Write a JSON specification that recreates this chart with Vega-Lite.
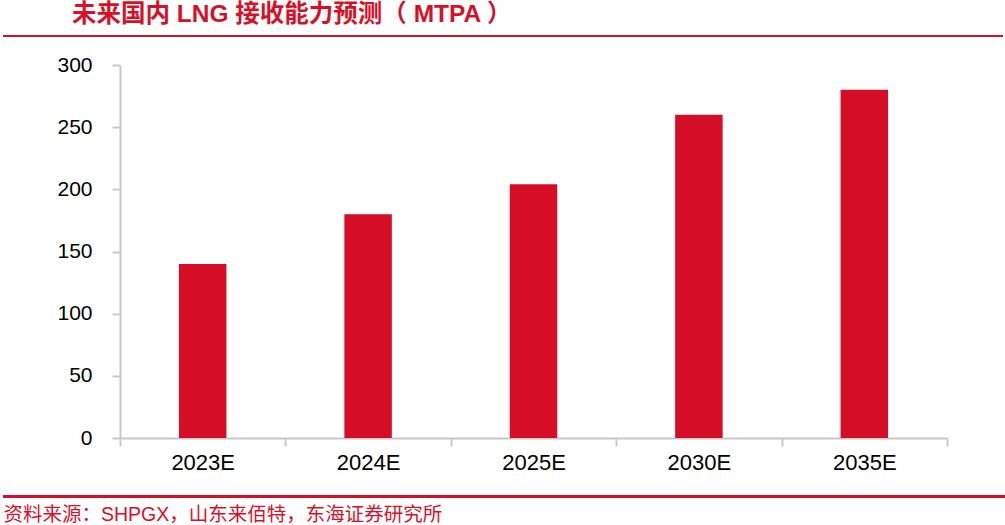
{
  "$schema": "https://vega.github.io/schema/vega-lite/v6.json",
  "width": 827,
  "height": 373,
  "autosize": {"type": "none"},
  "padding": {"left": 120, "top": 65, "right": 58, "bottom": 87},
  "background": "white",
  "config": {"view": {"stroke": null}, "font": "Liberation Sans, Noto Sans CJK SC"},
  "title": {
    "text": "未来国内 LNG 接收能力预测（ MTPA ）",
    "anchor": "start",
    "frame": "group",
    "orient": "top",
    "font": "Liberation Sans, Noto Sans CJK SC",
    "fontSize": 24.5,
    "fontWeight": "bold",
    "color": "#D7102A",
    "baseline": "alphabetic",
    "offset": 10,
    "dx": -48,
    "dy": 21
  },
  "datasets": {
    "bars": [
      {"year": "2023E", "capacity": 140},
      {"year": "2024E", "capacity": 180},
      {"year": "2025E", "capacity": 204},
      {"year": "2030E", "capacity": 260},
      {"year": "2035E", "capacity": 280}
    ],
    "lines": [{"name": "header"}]
  },
  "layer": [
    {
      "data": {"name": "bars"},
      "mark": {"type": "bar", "color": "#D60D26", "width": {"band": 0.287}},
      "encoding": {
        "x": {
          "field": "year",
          "type": "nominal",
          "sort": null,
          "scale": {"paddingInner": 0, "paddingOuter": 0},
          "axis": {
            "title": "资料来源：SHPGX，山东来佰特，东海证券研究所",
            "titleAnchor": "start",
            "titleAlign": "left",
            "titleX": -117,
            "titleY": 82,
            "titleBaseline": "alphabetic",
            "titleFont": "Liberation Sans, Noto Sans CJK SC",
            "titleFontSize": 19.5,
            "titleFontWeight": "normal",
            "titleColor": "#D7102A",
            "labelAngle": 0,
            "labelFont": "Liberation Sans",
            "labelFontSize": 22,
            "labelColor": "#000000",
            "labelPadding": 6,
            "labelBaseline": "top",
            "tickBand": "extent",
            "tickSize": 8,
            "tickColor": "#C8C8C8",
            "tickWidth": 2,
            "domainColor": "#C8C8C8",
            "domainWidth": 2
          }
        },
        "y": {
          "field": "capacity",
          "type": "quantitative",
          "scale": {"domain": [0, 300], "nice": false},
          "axis": {
            "title": null,
            "values": [0, 50, 100, 150, 200, 250, 300],
            "grid": false,
            "labelFont": "Liberation Sans",
            "labelFontSize": 21,
            "labelColor": "#000000",
            "labelPadding": 20,
            "tickSize": 8,
            "tickColor": "#C8C8C8",
            "tickWidth": 2,
            "domainColor": "#C8C8C8",
            "domainWidth": 2
          }
        }
      }
    },
    {
      "data": {"name": "lines"},
      "mark": {"type": "rule", "color": "#D7102A", "strokeWidth": 2},
      "encoding": {
        "x": {"value": -117},
        "x2": {"value": 883},
        "y": {"value": -29}
      }
    },
    {
      "data": {"name": "lines"},
      "mark": {"type": "rule", "color": "#D7102A", "strokeWidth": 3},
      "encoding": {
        "x": {"value": -117},
        "x2": {"value": 885},
        "y": {"value": 431.5}
      }
    }
  ]
}
